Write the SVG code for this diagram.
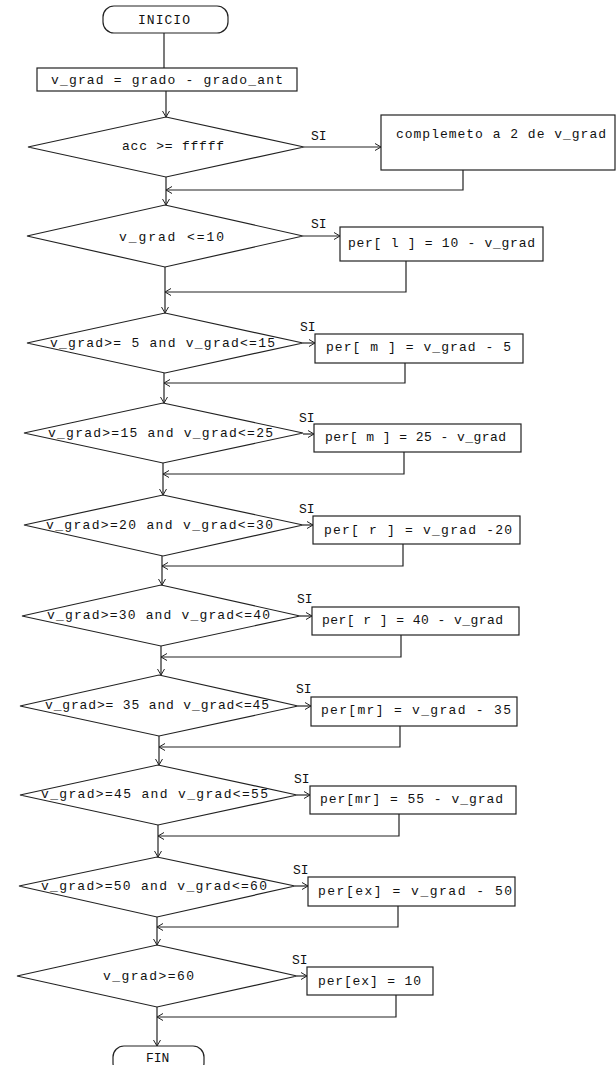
<svg xmlns="http://www.w3.org/2000/svg" width="616" height="1065" viewBox="0 0 616 1065">
<style>
.s{fill:#fff;stroke:#222;stroke-width:1.2}
.c{fill:none;stroke:#222;stroke-width:1.2}
text{font-family:"Liberation Mono","Courier New",monospace;font-size:13px;fill:#111}
</style>
<defs>
<marker id="a" markerUnits="userSpaceOnUse" markerWidth="10" markerHeight="10" refX="7" refY="4" orient="auto">
<path d="M1,0.5 L7,4 L1,7.5" fill="none" stroke="#222" stroke-width="1"/>
</marker>
</defs>
<rect width="616" height="1065" fill="#fff"/>
<g id="connectors">
<path class="c" d="M164,33 V68"/>
<path class="c" d="M166,91 V117" marker-end="url(#a)"/>
<path class="c" d="M304,147 H381" marker-end="url(#a)"/>
<path class="c" d="M463,170 V190 H166" marker-end="url(#a)"/>
<path class="c" d="M166,177 V205" marker-end="url(#a)"/>
<path class="c" d="M303,236 H340" marker-end="url(#a)"/>
<path class="c" d="M406,261 V292 H165" marker-end="url(#a)"/>
<path class="c" d="M165,267 V313" marker-end="url(#a)"/>
<path class="c" d="M303,343 H315" marker-end="url(#a)"/>
<path class="c" d="M405,363 V383 H164" marker-end="url(#a)"/>
<path class="c" d="M164,373 V403" marker-end="url(#a)"/>
<path class="c" d="M303,434 H314" marker-end="url(#a)"/>
<path class="c" d="M404,452 V474 H163" marker-end="url(#a)"/>
<path class="c" d="M163,463 V495" marker-end="url(#a)"/>
<path class="c" d="M303,525 H313" marker-end="url(#a)"/>
<path class="c" d="M403,544 V566 H162" marker-end="url(#a)"/>
<path class="c" d="M162,556 V585" marker-end="url(#a)"/>
<path class="c" d="M300,616 H312" marker-end="url(#a)"/>
<path class="c" d="M401,635 V657 H161" marker-end="url(#a)"/>
<path class="c" d="M161,646 V675" marker-end="url(#a)"/>
<path class="c" d="M298,706 H311" marker-end="url(#a)"/>
<path class="c" d="M400,726 V747 H159" marker-end="url(#a)"/>
<path class="c" d="M159,736 V765" marker-end="url(#a)"/>
<path class="c" d="M297,795 H310" marker-end="url(#a)"/>
<path class="c" d="M399,814 V836 H158" marker-end="url(#a)"/>
<path class="c" d="M158,825 V857" marker-end="url(#a)"/>
<path class="c" d="M295,886 H308" marker-end="url(#a)"/>
<path class="c" d="M398,906 V927 H157" marker-end="url(#a)"/>
<path class="c" d="M157,917 V945" marker-end="url(#a)"/>
<path class="c" d="M297,976 H307" marker-end="url(#a)"/>
<path class="c" d="M396,995 V1017 H157" marker-end="url(#a)"/>
<path class="c" d="M157,1007 V1046" marker-end="url(#a)"/>
</g>
<g id="inicio"><rect class="s" x="103" y="6" width="125" height="27" rx="11"/><text x="138" y="24" textLength="52">INICIO</text></g>
<g id="calc"><rect class="s" x="37" y="68" width="260" height="23"/><text x="51" y="84" textLength="232">v_grad = grado - grado_ant</text></g>
<g id="d1"><polygon class="s" points="166,117 304,147 166,177 28,147"/><text x="122" y="150" textLength="102">acc &gt;= fffff</text></g>
<g id="si1"><text x="311" y="140">SI</text></g>
<g id="comp"><rect class="s" x="381" y="115" width="234" height="55"/><text x="396" y="138" textLength="210">complemeto a 2 de v_grad</text></g>
<g id="d2"><polygon class="s" points="165,205 303,236 165,267 27,236"/><text x="119" y="241" textLength="105">v_grad  &lt;=10</text></g>
<g id="si2"><text x="311" y="228">SI</text></g>
<g id="b2"><rect class="s" x="340" y="227" width="203" height="34"/><text x="348" y="247" textLength="187">per[ l ] = 10 - v_grad</text></g>
<g id="d3"><polygon class="s" points="165,313 303,343 165,373 27,343"/><text x="50" y="347" textLength="225">v_grad&gt;= 5  and v_grad&lt;=15</text></g>
<g id="si3"><text x="300" y="331">SI</text></g>
<g id="b3"><rect class="s" x="315" y="334" width="208" height="29"/><text x="326" y="351" textLength="185">per[ m ] = v_grad  - 5</text></g>
<g id="d4"><polygon class="s" points="163,403 303,433 163,463 24,433"/><text x="48" y="437" textLength="225">v_grad&gt;=15 and v_grad&lt;=25</text></g>
<g id="si4"><text x="299" y="422">SI</text></g>
<g id="b4"><rect class="s" x="314" y="424" width="207" height="28"/><text x="325" y="441" textLength="181">per[ m ] = 25 - v_grad</text></g>
<g id="d5"><polygon class="s" points="163,495 303,525 163,556 24,525"/><text x="46" y="529" textLength="227">v_grad&gt;=20 and v_grad&lt;=30</text></g>
<g id="si5"><text x="299" y="513">SI</text></g>
<g id="b5"><rect class="s" x="313" y="516" width="207" height="28"/><text x="324" y="534" textLength="188">per[ r ] = v_grad  -20</text></g>
<g id="d6"><polygon class="s" points="161,585 300,616 161,646 22,616"/><text x="47" y="619" textLength="223">v_grad&gt;=30 and v_grad&lt;=40</text></g>
<g id="si6"><text x="297" y="603">SI</text></g>
<g id="b6"><rect class="s" x="312" y="607" width="207" height="28"/><text x="322" y="624" textLength="181">per[ r ] = 40 - v_grad</text></g>
<g id="d7"><polygon class="s" points="159,675 298,706 159,736 20,706"/><text x="45" y="709" textLength="224">v_grad&gt;= 35 and v_grad&lt;=45</text></g>
<g id="si7"><text x="296" y="693">SI</text></g>
<g id="b7"><rect class="s" x="311" y="697" width="206" height="29"/><text x="321" y="714" textLength="190">per[mr] = v_grad  - 35</text></g>
<g id="d8"><polygon class="s" points="158,765 297,795 158,825 20,795"/><text x="41" y="798" textLength="227">v_grad&gt;=45 and v_grad&lt;=55</text></g>
<g id="si8"><text x="294" y="783">SI</text></g>
<g id="b8"><rect class="s" x="310" y="786" width="206" height="28"/><text x="320" y="803" textLength="183">per[mr] = 55 - v_grad</text></g>
<g id="d9"><polygon class="s" points="157,857 295,886 157,917 19,886"/><text x="41" y="890" textLength="226">v_grad&gt;=50 and v_grad&lt;=60</text></g>
<g id="si9"><text x="293" y="874">SI</text></g>
<g id="b9"><rect class="s" x="308" y="877" width="207" height="29"/><text x="318" y="895" textLength="194">per[ex] = v_grad  - 50</text></g>
<g id="d10"><polygon class="s" points="157,945 297,976 157,1007 17,976"/><text x="103" y="980" textLength="91">v_grad&gt;=60</text></g>
<g id="si10"><text x="292" y="964">SI</text></g>
<g id="b10"><rect class="s" x="307" y="967" width="126" height="28"/><text x="318" y="985" textLength="103">per[ex] = 10</text></g>
<g id="fin"><rect class="s" x="113" y="1046" width="91" height="28" rx="11"/><text x="146" y="1062">FIN</text></g>
</svg>
